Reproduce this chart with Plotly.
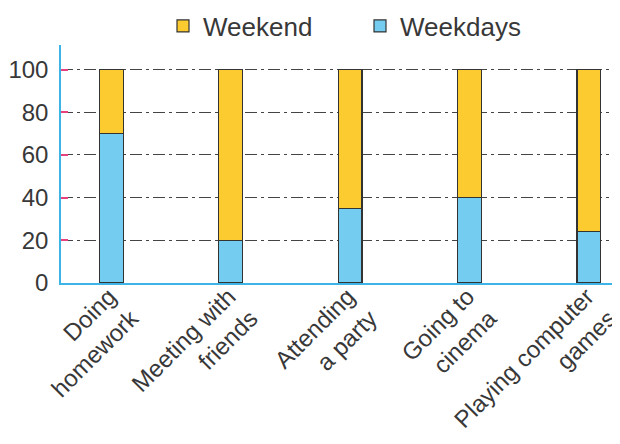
import plotly.graph_objects as go

categories = ["Doing<br>homework", "Meeting with<br>friends", "Attending<br>a party",
              "Going to<br>cinema", "Playing computer<br>games"]
weekdays = [70, 20, 35, 40, 24]
weekend = [30, 80, 65, 60, 76]
y_ticks = [0, 20, 40, 60, 80, 100]

FONT = "Liberation Sans, Arial, sans-serif"
TXT = "#383838"

# the page adds an 8px body margin, so the figure is 612x436 drawn from (8, 8)
W, H = 612, 436

fig = go.Figure()
fig.add_trace(go.Bar(
    x=categories, y=weekdays, name="Weekdays", width=0.2,
    marker=dict(color="#74CCF0", line=dict(color="#333333", width=1.2)),
))
fig.add_trace(go.Bar(
    x=categories, y=weekend, name="Weekend", width=0.2,
    marker=dict(color="#FCCB30", line=dict(color="#333333", width=1.2)),
))

fig.update_layout(
    barmode="stack",
    width=W, height=H,
    margin=dict(l=53, r=0, t=37, b=161, autoexpand=False),
    paper_bgcolor="white", plot_bgcolor="white",
    font=dict(family=FONT, color=TXT, size=24),
    showlegend=True,
    legend=dict(
        orientation="h", traceorder="reversed",
        xref="container", yref="container",
        x=155 / W, xanchor="left", y=1 - 18 / H, yanchor="middle",
        font=dict(size=26, color=TXT), entrywidth=152, entrywidthmode="pixels",
        bgcolor="rgba(0,0,0,0)",
    ),
    xaxis=dict(
        type="category", range=[-0.42, 4.26], automargin=False,
        showline=True, linecolor="#3DB4E6", linewidth=2,
        showgrid=False, ticks="", tickangle=-45,
        ticklabelstandoff=-12, ticklabelshift=-2,
        tickfont=dict(size=24, color=TXT),
    ),
    yaxis=dict(
        range=[0, 111.5], tickvals=y_ticks, automargin=False,
        showline=True, linecolor="#3DB4E6", linewidth=1.5,
        showgrid=True, gridcolor="#444444", gridwidth=1.2, griddash="12px,4px,3px,4px",
        zeroline=False,
        ticks="inside", ticklen=7, tickcolor="#E8417F", tickwidth=1.5,
        ticklabelstandoff=6,
        tickfont=dict(size=24, color=TXT),
    ),
)

fig.write_html("out.html")
